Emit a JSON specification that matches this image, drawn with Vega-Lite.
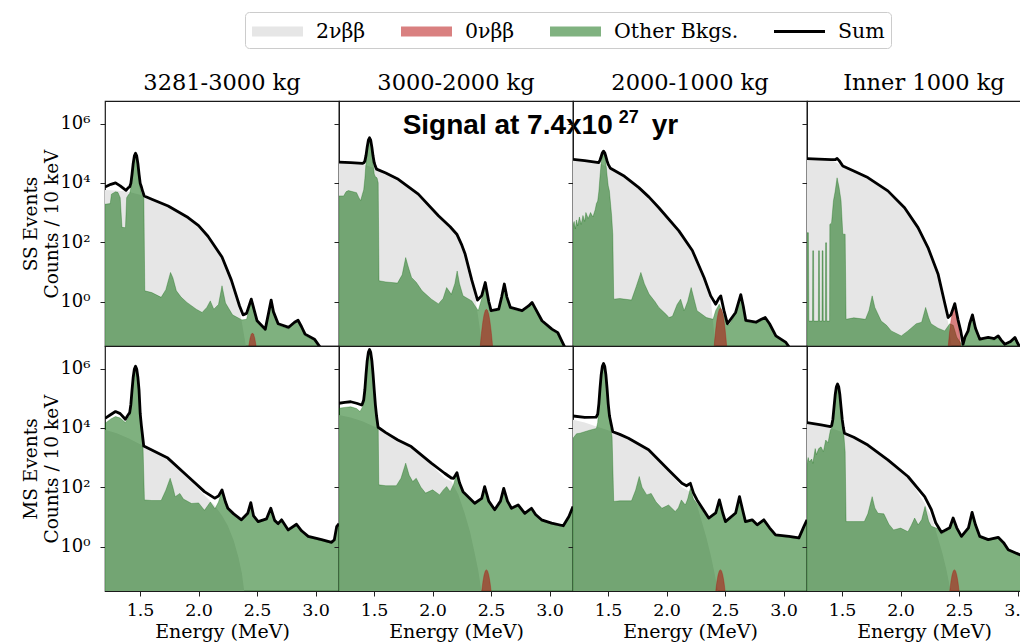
{
"$schema":"https://vega.github.io/schema/vega-lite/v6.json",
"padding":{"left":21,"top":11,"right":0,"bottom":0},
"columns":4,
"spacing":0,
"bounds":"flush",
"data":{"values":[
{"p":"S1","s":"2v","e":1.2,"v":5750},{"p":"S1","s":"2v","e":1.3,"v":5500},{"p":"S1","s":"2v","e":1.4,"v":5010},{"p":"S1","s":"2v","e":1.5,"v":3980},{"p":"S1","s":"2v","e":1.6,"v":2820},{"p":"S1","s":"2v","e":1.7,"v":2000},{"p":"S1","s":"2v","e":1.8,"v":1260},{"p":"S1","s":"2v","e":1.9,"v":724},{"p":"S1","s":"2v","e":2.0,"v":355},{"p":"S1","s":"2v","e":2.1,"v":132},{"p":"S1","s":"2v","e":2.2,"v":26.9},{"p":"S1","s":"2v","e":2.25,"v":10},{"p":"S1","s":"2v","e":2.3,"v":2.82},{"p":"S1","s":"2v","e":2.35,"v":0.562},{"p":"S1","s":"2v","e":2.4,"v":0.0398},{"p":"S1","s":"2v","e":2.43,"v":0.01},{"p":"S1","s":"2v","e":2.46,"v":0.001},
{"p":"S1","s":"bk","e":1.2,"v":1905},{"p":"S1","s":"bk","e":1.245,"v":2000},{"p":"S1","s":"bk","e":1.255,"v":4170},{"p":"S1","s":"bk","e":1.29,"v":5010},{"p":"S1","s":"bk","e":1.31,"v":4790},{"p":"S1","s":"bk","e":1.33,"v":3160},{"p":"S1","s":"bk","e":1.345,"v":316},{"p":"S1","s":"bk","e":1.375,"v":309},{"p":"S1","s":"bk","e":1.385,"v":3160},{"p":"S1","s":"bk","e":1.4,"v":3980},{"p":"S1","s":"bk","e":1.411,"v":4350},{"p":"S1","s":"bk","e":1.421,"v":6720},{"p":"S1","s":"bk","e":1.431,"v":16940},{"p":"S1","s":"bk","e":1.441,"v":43440},{"p":"S1","s":"bk","e":1.451,"v":80880},{"p":"S1","s":"bk","e":1.461,"v":100000},{"p":"S1","s":"bk","e":1.471,"v":80880},{"p":"S1","s":"bk","e":1.481,"v":43440},{"p":"S1","s":"bk","e":1.491,"v":16940},{"p":"S1","s":"bk","e":1.501,"v":6720},{"p":"S1","s":"bk","e":1.511,"v":4350},{"p":"S1","s":"bk","e":1.525,"v":3980},{"p":"S1","s":"bk","e":1.532,"v":3160},{"p":"S1","s":"bk","e":1.54,"v":2.29},{"p":"S1","s":"bk","e":1.6,"v":2.0},{"p":"S1","s":"bk","e":1.68,"v":1.38},{"p":"S1","s":"bk","e":1.72,"v":2.51},{"p":"S1","s":"bk","e":1.76,"v":9.55},{"p":"S1","s":"bk","e":1.78,"v":6.31},{"p":"S1","s":"bk","e":1.81,"v":2.29},{"p":"S1","s":"bk","e":1.85,"v":1.41},{"p":"S1","s":"bk","e":1.9,"v":0.933},{"p":"S1","s":"bk","e":1.98,"v":0.55},{"p":"S1","s":"bk","e":2.03,"v":0.427},{"p":"S1","s":"bk","e":2.07,"v":0.631},{"p":"S1","s":"bk","e":2.1,"v":1.05},{"p":"S1","s":"bk","e":2.13,"v":0.55},{"p":"S1","s":"bk","e":2.17,"v":0.794},{"p":"S1","s":"bk","e":2.2,"v":3.39},{"p":"S1","s":"bk","e":2.23,"v":0.891},{"p":"S1","s":"bk","e":2.29,"v":0.355},{"p":"S1","s":"bk","e":2.37,"v":0.24},{"p":"S1","s":"bk","e":2.41,"v":0.251},{"p":"S1","s":"bk","e":2.45,"v":1.05},{"p":"S1","s":"bk","e":2.5,"v":0.2},{"p":"S1","s":"bk","e":2.57,"v":0.107},{"p":"S1","s":"bk","e":2.6,"v":0.398},{"p":"S1","s":"bk","e":2.62,"v":1.0},{"p":"S1","s":"bk","e":2.64,"v":0.398},{"p":"S1","s":"bk","e":2.68,"v":0.158},{"p":"S1","s":"bk","e":2.77,"v":0.12},{"p":"S1","s":"bk","e":2.82,"v":0.178},{"p":"S1","s":"bk","e":2.85,"v":0.214},{"p":"S1","s":"bk","e":2.88,"v":0.126},{"p":"S1","s":"bk","e":2.91,"v":0.0708},{"p":"S1","s":"bk","e":2.99,"v":0.0479},{"p":"S1","s":"bk","e":3.05,"v":0.024},{"p":"S1","s":"bk","e":3.1,"v":0.0158},{"p":"S1","s":"bk","e":3.2,"v":0.0063},
{"p":"S1","s":"0v","e":2.39,"v":0.0001},{"p":"S1","s":"0v","e":2.4,"v":0.0021},{"p":"S1","s":"0v","e":2.41,"v":0.0066},{"p":"S1","s":"0v","e":2.42,"v":0.0166},{"p":"S1","s":"0v","e":2.43,"v":0.0344},{"p":"S1","s":"0v","e":2.44,"v":0.0576},{"p":"S1","s":"0v","e":2.45,"v":0.0785},{"p":"S1","s":"0v","e":2.46,"v":0.087},{"p":"S1","s":"0v","e":2.47,"v":0.0785},{"p":"S1","s":"0v","e":2.48,"v":0.0576},{"p":"S1","s":"0v","e":2.49,"v":0.0344},{"p":"S1","s":"0v","e":2.5,"v":0.0166},{"p":"S1","s":"0v","e":2.51,"v":0.0066},{"p":"S1","s":"0v","e":2.52,"v":0.0021},{"p":"S1","s":"0v","e":2.53,"v":0.0001},
{"p":"S1","s":"sum","e":1.2,"v":7240},{"p":"S1","s":"sum","e":1.25,"v":8910},{"p":"S1","s":"sum","e":1.29,"v":10000},{"p":"S1","s":"sum","e":1.33,"v":7940},{"p":"S1","s":"sum","e":1.38,"v":5620},{"p":"S1","s":"sum","e":1.4,"v":6900},{"p":"S1","s":"sum","e":1.411,"v":7360},{"p":"S1","s":"sum","e":1.421,"v":9650},{"p":"S1","s":"sum","e":1.431,"v":19560},{"p":"S1","s":"sum","e":1.441,"v":45220},{"p":"S1","s":"sum","e":1.451,"v":81490},{"p":"S1","s":"sum","e":1.461,"v":100000},{"p":"S1","s":"sum","e":1.471,"v":81490},{"p":"S1","s":"sum","e":1.481,"v":45220},{"p":"S1","s":"sum","e":1.491,"v":19560},{"p":"S1","s":"sum","e":1.501,"v":9650},{"p":"S1","s":"sum","e":1.511,"v":7360},{"p":"S1","s":"sum","e":1.523,"v":5000},{"p":"S1","s":"sum","e":1.535,"v":3630},{"p":"S1","s":"sum","e":1.6,"v":2820},{"p":"S1","s":"sum","e":1.74,"v":1660},{"p":"S1","s":"sum","e":1.91,"v":676},{"p":"S1","s":"sum","e":2.0,"v":363},{"p":"S1","s":"sum","e":2.08,"v":158},{"p":"S1","s":"sum","e":2.2,"v":31.6},{"p":"S1","s":"sum","e":2.28,"v":5.25},{"p":"S1","s":"sum","e":2.35,"v":0.708},{"p":"S1","s":"sum","e":2.38,"v":0.355},{"p":"S1","s":"sum","e":2.41,"v":0.398},{"p":"S1","s":"sum","e":2.45,"v":1.2},{"p":"S1","s":"sum","e":2.5,"v":0.224},{"p":"S1","s":"sum","e":2.57,"v":0.117},{"p":"S1","s":"sum","e":2.6,"v":0.447},{"p":"S1","s":"sum","e":2.62,"v":1.12},{"p":"S1","s":"sum","e":2.64,"v":0.447},{"p":"S1","s":"sum","e":2.68,"v":0.178},{"p":"S1","s":"sum","e":2.77,"v":0.135},{"p":"S1","s":"sum","e":2.82,"v":0.2},{"p":"S1","s":"sum","e":2.85,"v":0.234},{"p":"S1","s":"sum","e":2.88,"v":0.141},{"p":"S1","s":"sum","e":2.91,"v":0.0794},{"p":"S1","s":"sum","e":2.99,"v":0.0537},{"p":"S1","s":"sum","e":3.05,"v":0.0251},{"p":"S1","s":"sum","e":3.1,"v":0.0158},

{"p":"S2","s":"2v","e":1.2,"v":48980},{"p":"S2","s":"2v","e":1.3,"v":46770},{"p":"S2","s":"2v","e":1.4,"v":43650},{"p":"S2","s":"2v","e":1.5,"v":31620},{"p":"S2","s":"2v","e":1.6,"v":21380},{"p":"S2","s":"2v","e":1.7,"v":13490},{"p":"S2","s":"2v","e":1.8,"v":7940},{"p":"S2","s":"2v","e":1.88,"v":4370},{"p":"S2","s":"2v","e":1.95,"v":2240},{"p":"S2","s":"2v","e":2.05,"v":776},{"p":"S2","s":"2v","e":2.15,"v":316},{"p":"S2","s":"2v","e":2.21,"v":166},{"p":"S2","s":"2v","e":2.25,"v":70.8},{"p":"S2","s":"2v","e":2.28,"v":35.5},{"p":"S2","s":"2v","e":2.335,"v":4.47},{"p":"S2","s":"2v","e":2.37,"v":1},{"p":"S2","s":"2v","e":2.4,"v":0.158},{"p":"S2","s":"2v","e":2.43,"v":0.0158},{"p":"S2","s":"2v","e":2.46,"v":0.001},
{"p":"S2","s":"bk","e":1.2,"v":3630},{"p":"S2","s":"bk","e":1.24,"v":3630},{"p":"S2","s":"bk","e":1.26,"v":5010},{"p":"S2","s":"bk","e":1.28,"v":5500},{"p":"S2","s":"bk","e":1.32,"v":5010},{"p":"S2","s":"bk","e":1.35,"v":4680},{"p":"S2","s":"bk","e":1.37,"v":3160},{"p":"S2","s":"bk","e":1.385,"v":2510},{"p":"S2","s":"bk","e":1.4,"v":4170},{"p":"S2","s":"bk","e":1.411,"v":5770},{"p":"S2","s":"bk","e":1.421,"v":13800},{"p":"S2","s":"bk","e":1.431,"v":48580},{"p":"S2","s":"bk","e":1.441,"v":138700},{"p":"S2","s":"bk","e":1.451,"v":266000},{"p":"S2","s":"bk","e":1.461,"v":331000},{"p":"S2","s":"bk","e":1.471,"v":266000},{"p":"S2","s":"bk","e":1.481,"v":138700},{"p":"S2","s":"bk","e":1.491,"v":48580},{"p":"S2","s":"bk","e":1.501,"v":20000},{"p":"S2","s":"bk","e":1.511,"v":16000},{"p":"S2","s":"bk","e":1.525,"v":14790},{"p":"S2","s":"bk","e":1.535,"v":10000},{"p":"S2","s":"bk","e":1.542,"v":5.01},{"p":"S2","s":"bk","e":1.6,"v":4.57},{"p":"S2","s":"bk","e":1.7,"v":4.17},{"p":"S2","s":"bk","e":1.74,"v":7.94},{"p":"S2","s":"bk","e":1.77,"v":30.2},{"p":"S2","s":"bk","e":1.79,"v":15.8},{"p":"S2","s":"bk","e":1.82,"v":6.46},{"p":"S2","s":"bk","e":1.86,"v":4.47},{"p":"S2","s":"bk","e":1.91,"v":2.29},{"p":"S2","s":"bk","e":1.99,"v":1.2},{"p":"S2","s":"bk","e":2.05,"v":0.832},{"p":"S2","s":"bk","e":2.09,"v":1.26},{"p":"S2","s":"bk","e":2.12,"v":2.95},{"p":"S2","s":"bk","e":2.16,"v":1.74},{"p":"S2","s":"bk","e":2.19,"v":3.98},{"p":"S2","s":"bk","e":2.21,"v":10.7},{"p":"S2","s":"bk","e":2.23,"v":3.98},{"p":"S2","s":"bk","e":2.26,"v":1.55},{"p":"S2","s":"bk","e":2.335,"v":1.05},{"p":"S2","s":"bk","e":2.39,"v":0.49},{"p":"S2","s":"bk","e":2.42,"v":1.26},{"p":"S2","s":"bk","e":2.45,"v":3.16},{"p":"S2","s":"bk","e":2.48,"v":0.631},{"p":"S2","s":"bk","e":2.5,"v":0.447},{"p":"S2","s":"bk","e":2.565,"v":0.5},{"p":"S2","s":"bk","e":2.59,"v":1.26},{"p":"S2","s":"bk","e":2.613,"v":3.55},{"p":"S2","s":"bk","e":2.635,"v":1.26},{"p":"S2","s":"bk","e":2.665,"v":0.562},{"p":"S2","s":"bk","e":2.765,"v":0.447},{"p":"S2","s":"bk","e":2.82,"v":0.631},{"p":"S2","s":"bk","e":2.85,"v":0.832},{"p":"S2","s":"bk","e":2.88,"v":0.501},{"p":"S2","s":"bk","e":2.935,"v":0.2},{"p":"S2","s":"bk","e":3.02,"v":0.105},{"p":"S2","s":"bk","e":3.07,"v":0.0794},{"p":"S2","s":"bk","e":3.11,"v":0.0355},{"p":"S2","s":"bk","e":3.15,"v":0.0158},{"p":"S2","s":"bk","e":3.2,"v":0.0079},
{"p":"S2","s":"0v","e":2.39,"v":0.0001},{"p":"S2","s":"0v","e":2.4,"v":0.0132},{"p":"S2","s":"0v","e":2.41,"v":0.0418},{"p":"S2","s":"0v","e":2.42,"v":0.105},{"p":"S2","s":"0v","e":2.43,"v":0.217},{"p":"S2","s":"0v","e":2.44,"v":0.364},{"p":"S2","s":"0v","e":2.45,"v":0.496},{"p":"S2","s":"0v","e":2.46,"v":0.55},{"p":"S2","s":"0v","e":2.47,"v":0.496},{"p":"S2","s":"0v","e":2.48,"v":0.364},{"p":"S2","s":"0v","e":2.49,"v":0.217},{"p":"S2","s":"0v","e":2.5,"v":0.105},{"p":"S2","s":"0v","e":2.51,"v":0.0418},{"p":"S2","s":"0v","e":2.52,"v":0.0132},{"p":"S2","s":"0v","e":2.53,"v":0.0001},
{"p":"S2","s":"sum","e":1.2,"v":50100},{"p":"S2","s":"sum","e":1.3,"v":47900},{"p":"S2","s":"sum","e":1.4,"v":45700},{"p":"S2","s":"sum","e":1.411,"v":47100},{"p":"S2","s":"sum","e":1.421,"v":54100},{"p":"S2","s":"sum","e":1.431,"v":84500},{"p":"S2","s":"sum","e":1.441,"v":163100},{"p":"S2","s":"sum","e":1.451,"v":274300},{"p":"S2","s":"sum","e":1.461,"v":331000},{"p":"S2","s":"sum","e":1.471,"v":274300},{"p":"S2","s":"sum","e":1.481,"v":160000},{"p":"S2","s":"sum","e":1.491,"v":80000},{"p":"S2","s":"sum","e":1.501,"v":48000},{"p":"S2","s":"sum","e":1.511,"v":36000},{"p":"S2","s":"sum","e":1.521,"v":29000},{"p":"S2","s":"sum","e":1.6,"v":21400},{"p":"S2","s":"sum","e":1.707,"v":13200},{"p":"S2","s":"sum","e":1.878,"v":4170},{"p":"S2","s":"sum","e":2.05,"v":776},{"p":"S2","s":"sum","e":2.15,"v":331},{"p":"S2","s":"sum","e":2.207,"v":186},{"p":"S2","s":"sum","e":2.25,"v":79.4},{"p":"S2","s":"sum","e":2.278,"v":39.8},{"p":"S2","s":"sum","e":2.335,"v":5.25},{"p":"S2","s":"sum","e":2.384,"v":1.12},{"p":"S2","s":"sum","e":2.42,"v":1.58},{"p":"S2","s":"sum","e":2.45,"v":4.37},{"p":"S2","s":"sum","e":2.48,"v":1.0},{"p":"S2","s":"sum","e":2.5,"v":0.49},{"p":"S2","s":"sum","e":2.565,"v":0.55},{"p":"S2","s":"sum","e":2.59,"v":1.41},{"p":"S2","s":"sum","e":2.613,"v":3.89},{"p":"S2","s":"sum","e":2.635,"v":1.41},{"p":"S2","s":"sum","e":2.665,"v":0.631},{"p":"S2","s":"sum","e":2.765,"v":0.49},{"p":"S2","s":"sum","e":2.82,"v":0.708},{"p":"S2","s":"sum","e":2.85,"v":0.933},{"p":"S2","s":"sum","e":2.88,"v":0.562},{"p":"S2","s":"sum","e":2.935,"v":0.224},{"p":"S2","s":"sum","e":3.02,"v":0.117},{"p":"S2","s":"sum","e":3.07,"v":0.0891},{"p":"S2","s":"sum","e":3.11,"v":0.0417},{"p":"S2","s":"sum","e":3.15,"v":0.02},{"p":"S2","s":"sum","e":3.2,"v":0.01},

{"p":"S3","s":"2v","e":1.2,"v":60260},{"p":"S3","s":"2v","e":1.3,"v":56230},{"p":"S3","s":"2v","e":1.42,"v":46770},{"p":"S3","s":"2v","e":1.52,"v":30900},{"p":"S3","s":"2v","e":1.64,"v":16600},{"p":"S3","s":"2v","e":1.763,"v":6920},{"p":"S3","s":"2v","e":1.85,"v":3310},{"p":"S3","s":"2v","e":1.934,"v":1445},{"p":"S3","s":"2v","e":2.105,"v":240},{"p":"S3","s":"2v","e":2.22,"v":50.1},{"p":"S3","s":"2v","e":2.32,"v":6.03},{"p":"S3","s":"2v","e":2.377,"v":1.26},{"p":"S3","s":"2v","e":2.41,"v":0.063},{"p":"S3","s":"2v","e":2.44,"v":0.0063},{"p":"S3","s":"2v","e":2.47,"v":0.001},
{"p":"S3","s":"bk","e":1.2,"v":398},{"p":"S3","s":"bk","e":1.21,"v":501},{"p":"S3","s":"bk","e":1.22,"v":282},{"p":"S3","s":"bk","e":1.23,"v":562},{"p":"S3","s":"bk","e":1.24,"v":355},{"p":"S3","s":"bk","e":1.255,"v":708},{"p":"S3","s":"bk","e":1.27,"v":398},{"p":"S3","s":"bk","e":1.285,"v":794},{"p":"S3","s":"bk","e":1.3,"v":501},{"p":"S3","s":"bk","e":1.31,"v":1000},{"p":"S3","s":"bk","e":1.33,"v":631},{"p":"S3","s":"bk","e":1.35,"v":1000},{"p":"S3","s":"bk","e":1.37,"v":708},{"p":"S3","s":"bk","e":1.39,"v":1260},{"p":"S3","s":"bk","e":1.4,"v":2000},{"p":"S3","s":"bk","e":1.411,"v":2430},{"p":"S3","s":"bk","e":1.421,"v":5140},{"p":"S3","s":"bk","e":1.431,"v":16850},{"p":"S3","s":"bk","e":1.441,"v":47200},{"p":"S3","s":"bk","e":1.451,"v":90100},{"p":"S3","s":"bk","e":1.461,"v":112000},{"p":"S3","s":"bk","e":1.471,"v":90100},{"p":"S3","s":"bk","e":1.481,"v":47200},{"p":"S3","s":"bk","e":1.491,"v":18000},{"p":"S3","s":"bk","e":1.501,"v":8000},{"p":"S3","s":"bk","e":1.511,"v":5370},{"p":"S3","s":"bk","e":1.53,"v":794},{"p":"S3","s":"bk","e":1.54,"v":186},{"p":"S3","s":"bk","e":1.548,"v":1.2},{"p":"S3","s":"bk","e":1.6,"v":1.26},{"p":"S3","s":"bk","e":1.7,"v":1.12},{"p":"S3","s":"bk","e":1.74,"v":3.16},{"p":"S3","s":"bk","e":1.78,"v":9.55},{"p":"S3","s":"bk","e":1.81,"v":3.98},{"p":"S3","s":"bk","e":1.85,"v":1.78},{"p":"S3","s":"bk","e":1.9,"v":1.0},{"p":"S3","s":"bk","e":1.934,"v":0.631},{"p":"S3","s":"bk","e":2.0,"v":0.355},{"p":"S3","s":"bk","e":2.02,"v":0.288},{"p":"S3","s":"bk","e":2.05,"v":0.316},{"p":"S3","s":"bk","e":2.09,"v":0.794},{"p":"S3","s":"bk","e":2.12,"v":1.2},{"p":"S3","s":"bk","e":2.15,"v":0.49},{"p":"S3","s":"bk","e":2.18,"v":1.0},{"p":"S3","s":"bk","e":2.21,"v":2.95},{"p":"S3","s":"bk","e":2.24,"v":1.0},{"p":"S3","s":"bk","e":2.26,"v":0.49},{"p":"S3","s":"bk","e":2.34,"v":0.288},{"p":"S3","s":"bk","e":2.397,"v":0.251},{"p":"S3","s":"bk","e":2.42,"v":0.501},{"p":"S3","s":"bk","e":2.45,"v":0.813},{"p":"S3","s":"bk","e":2.48,"v":0.398},{"p":"S3","s":"bk","e":2.52,"v":0.158},{"p":"S3","s":"bk","e":2.537,"v":0.166},{"p":"S3","s":"bk","e":2.57,"v":0.282},{"p":"S3","s":"bk","e":2.6,"v":0.631},{"p":"S3","s":"bk","e":2.634,"v":1.51},{"p":"S3","s":"bk","e":2.655,"v":0.631},{"p":"S3","s":"bk","e":2.677,"v":0.209},{"p":"S3","s":"bk","e":2.763,"v":0.182},{"p":"S3","s":"bk","e":2.81,"v":0.224},{"p":"S3","s":"bk","e":2.843,"v":0.263},{"p":"S3","s":"bk","e":2.88,"v":0.158},{"p":"S3","s":"bk","e":2.934,"v":0.0631},{"p":"S3","s":"bk","e":3.02,"v":0.038},{"p":"S3","s":"bk","e":3.05,"v":0.0251},{"p":"S3","s":"bk","e":3.1,"v":0.0126},{"p":"S3","s":"bk","e":3.2,"v":0.0063},
{"p":"S3","s":"0v","e":2.39,"v":0.0001},{"p":"S3","s":"0v","e":2.4,"v":0.0144},{"p":"S3","s":"0v","e":2.41,"v":0.0456},{"p":"S3","s":"0v","e":2.42,"v":0.115},{"p":"S3","s":"0v","e":2.43,"v":0.237},{"p":"S3","s":"0v","e":2.44,"v":0.397},{"p":"S3","s":"0v","e":2.45,"v":0.541},{"p":"S3","s":"0v","e":2.46,"v":0.6},{"p":"S3","s":"0v","e":2.47,"v":0.541},{"p":"S3","s":"0v","e":2.48,"v":0.397},{"p":"S3","s":"0v","e":2.49,"v":0.237},{"p":"S3","s":"0v","e":2.5,"v":0.115},{"p":"S3","s":"0v","e":2.51,"v":0.0456},{"p":"S3","s":"0v","e":2.52,"v":0.0144},{"p":"S3","s":"0v","e":2.53,"v":0.0001},
{"p":"S3","s":"sum","e":1.2,"v":61700},{"p":"S3","s":"sum","e":1.3,"v":56200},{"p":"S3","s":"sum","e":1.42,"v":47900},{"p":"S3","s":"sum","e":1.431,"v":59000},{"p":"S3","s":"sum","e":1.441,"v":77500},{"p":"S3","s":"sum","e":1.451,"v":103700},{"p":"S3","s":"sum","e":1.461,"v":117000},{"p":"S3","s":"sum","e":1.471,"v":103700},{"p":"S3","s":"sum","e":1.481,"v":77500},{"p":"S3","s":"sum","e":1.491,"v":55000},{"p":"S3","s":"sum","e":1.501,"v":42000},{"p":"S3","s":"sum","e":1.52,"v":30900},{"p":"S3","s":"sum","e":1.64,"v":16600},{"p":"S3","s":"sum","e":1.763,"v":6920},{"p":"S3","s":"sum","e":1.85,"v":3310},{"p":"S3","s":"sum","e":1.934,"v":1450},{"p":"S3","s":"sum","e":2.105,"v":240},{"p":"S3","s":"sum","e":2.22,"v":52.5},{"p":"S3","s":"sum","e":2.32,"v":6.46},{"p":"S3","s":"sum","e":2.377,"v":1.55},{"p":"S3","s":"sum","e":2.42,"v":0.813},{"p":"S3","s":"sum","e":2.445,"v":1.26},{"p":"S3","s":"sum","e":2.463,"v":1.55},{"p":"S3","s":"sum","e":2.49,"v":0.501},{"p":"S3","s":"sum","e":2.52,"v":0.178},{"p":"S3","s":"sum","e":2.59,"v":0.427},{"p":"S3","s":"sum","e":2.634,"v":1.7},{"p":"S3","s":"sum","e":2.655,"v":0.708},{"p":"S3","s":"sum","e":2.677,"v":0.229},{"p":"S3","s":"sum","e":2.763,"v":0.2},{"p":"S3","s":"sum","e":2.81,"v":0.251},{"p":"S3","s":"sum","e":2.843,"v":0.288},{"p":"S3","s":"sum","e":2.88,"v":0.178},{"p":"S3","s":"sum","e":2.934,"v":0.0692},{"p":"S3","s":"sum","e":3.02,"v":0.0417},{"p":"S3","s":"sum","e":3.05,"v":0.0282},{"p":"S3","s":"sum","e":3.1,"v":0.0141},

{"p":"S4","s":"2v","e":1.2,"v":64570},{"p":"S4","s":"2v","e":1.3,"v":63100},{"p":"S4","s":"2v","e":1.406,"v":58880},{"p":"S4","s":"2v","e":1.506,"v":37150},{"p":"S4","s":"2v","e":1.6,"v":25120},{"p":"S4","s":"2v","e":1.72,"v":15140},{"p":"S4","s":"2v","e":1.891,"v":5370},{"p":"S4","s":"2v","e":2.034,"v":1445},{"p":"S4","s":"2v","e":2.149,"v":309},{"p":"S4","s":"2v","e":2.234,"v":66.1},{"p":"S4","s":"2v","e":2.32,"v":8.32},{"p":"S4","s":"2v","e":2.377,"v":0.794},{"p":"S4","s":"2v","e":2.41,"v":0.158},{"p":"S4","s":"2v","e":2.44,"v":0.0251},{"p":"S4","s":"2v","e":2.47,"v":0.0025},
{"p":"S4","s":"bk","e":1.2,"v":209},{"p":"S4","s":"bk","e":1.212,"v":209},{"p":"S4","s":"bk","e":1.216,"v":0.219},{"p":"S4","s":"bk","e":1.247,"v":0.219},{"p":"S4","s":"bk","e":1.249,"v":51.3},{"p":"S4","s":"bk","e":1.256,"v":51.3},{"p":"S4","s":"bk","e":1.258,"v":0.219},{"p":"S4","s":"bk","e":1.297,"v":0.219},{"p":"S4","s":"bk","e":1.299,"v":51.3},{"p":"S4","s":"bk","e":1.306,"v":51.3},{"p":"S4","s":"bk","e":1.308,"v":0.219},{"p":"S4","s":"bk","e":1.328,"v":0.219},{"p":"S4","s":"bk","e":1.33,"v":51.3},{"p":"S4","s":"bk","e":1.337,"v":51.3},{"p":"S4","s":"bk","e":1.339,"v":0.219},{"p":"S4","s":"bk","e":1.357,"v":0.219},{"p":"S4","s":"bk","e":1.359,"v":95.5},{"p":"S4","s":"bk","e":1.367,"v":95.5},{"p":"S4","s":"bk","e":1.369,"v":0.219},{"p":"S4","s":"bk","e":1.393,"v":0.219},{"p":"S4","s":"bk","e":1.395,"v":398},{"p":"S4","s":"bk","e":1.41,"v":447},{"p":"S4","s":"bk","e":1.426,"v":2510},{"p":"S4","s":"bk","e":1.44,"v":5010},{"p":"S4","s":"bk","e":1.457,"v":14800},{"p":"S4","s":"bk","e":1.474,"v":7080},{"p":"S4","s":"bk","e":1.491,"v":2510},{"p":"S4","s":"bk","e":1.506,"v":186},{"p":"S4","s":"bk","e":1.526,"v":186},{"p":"S4","s":"bk","e":1.534,"v":0.251},{"p":"S4","s":"bk","e":1.6,"v":0.282},{"p":"S4","s":"bk","e":1.7,"v":0.251},{"p":"S4","s":"bk","e":1.73,"v":0.501},{"p":"S4","s":"bk","e":1.757,"v":1.55},{"p":"S4","s":"bk","e":1.78,"v":0.631},{"p":"S4","s":"bk","e":1.834,"v":0.219},{"p":"S4","s":"bk","e":1.88,"v":0.158},{"p":"S4","s":"bk","e":1.92,"v":0.102},{"p":"S4","s":"bk","e":2.006,"v":0.0692},{"p":"S4","s":"bk","e":2.06,"v":0.1},{"p":"S4","s":"bk","e":2.134,"v":0.178},{"p":"S4","s":"bk","e":2.18,"v":0.2},{"p":"S4","s":"bk","e":2.214,"v":0.631},{"p":"S4","s":"bk","e":2.24,"v":0.282},{"p":"S4","s":"bk","e":2.26,"v":0.178},{"p":"S4","s":"bk","e":2.32,"v":0.126},{"p":"S4","s":"bk","e":2.377,"v":0.102},{"p":"S4","s":"bk","e":2.42,"v":0.178},{"p":"S4","s":"bk","e":2.45,"v":0.158},{"p":"S4","s":"bk","e":2.48,"v":0.0631},{"p":"S4","s":"bk","e":2.52,"v":0.0363},{"p":"S4","s":"bk","e":2.55,"v":0.0631},{"p":"S4","s":"bk","e":2.59,"v":0.158},{"p":"S4","s":"bk","e":2.614,"v":0.355},{"p":"S4","s":"bk","e":2.64,"v":0.126},{"p":"S4","s":"bk","e":2.677,"v":0.0501},{"p":"S4","s":"bk","e":2.749,"v":0.0537},{"p":"S4","s":"bk","e":2.8,"v":0.0501},{"p":"S4","s":"bk","e":2.834,"v":0.0617},{"p":"S4","s":"bk","e":2.86,"v":0.0447},{"p":"S4","s":"bk","e":2.891,"v":0.0316},{"p":"S4","s":"bk","e":2.94,"v":0.0398},{"p":"S4","s":"bk","e":2.977,"v":0.0537},{"p":"S4","s":"bk","e":3.0,"v":0.0355},{"p":"S4","s":"bk","e":3.034,"v":0.02},{"p":"S4","s":"bk","e":3.1,"v":0.01},{"p":"S4","s":"bk","e":3.2,"v":0.005},
{"p":"S4","s":"0v","e":2.39,"v":0.0001},{"p":"S4","s":"0v","e":2.4,"v":0.0132},{"p":"S4","s":"0v","e":2.41,"v":0.0418},{"p":"S4","s":"0v","e":2.42,"v":0.105},{"p":"S4","s":"0v","e":2.43,"v":0.217},{"p":"S4","s":"0v","e":2.44,"v":0.364},{"p":"S4","s":"0v","e":2.45,"v":0.496},{"p":"S4","s":"0v","e":2.46,"v":0.55},{"p":"S4","s":"0v","e":2.47,"v":0.496},{"p":"S4","s":"0v","e":2.48,"v":0.364},{"p":"S4","s":"0v","e":2.49,"v":0.217},{"p":"S4","s":"0v","e":2.5,"v":0.105},{"p":"S4","s":"0v","e":2.51,"v":0.0418},{"p":"S4","s":"0v","e":2.52,"v":0.0132},{"p":"S4","s":"0v","e":2.53,"v":0.0001},
{"p":"S4","s":"sum","e":1.2,"v":66100},{"p":"S4","s":"sum","e":1.3,"v":63100},{"p":"S4","s":"sum","e":1.406,"v":60300},{"p":"S4","s":"sum","e":1.44,"v":60300},{"p":"S4","s":"sum","e":1.457,"v":66100},{"p":"S4","s":"sum","e":1.475,"v":56200},{"p":"S4","s":"sum","e":1.506,"v":37200},{"p":"S4","s":"sum","e":1.6,"v":25100},{"p":"S4","s":"sum","e":1.72,"v":15100},{"p":"S4","s":"sum","e":1.891,"v":5370},{"p":"S4","s":"sum","e":2.034,"v":1450},{"p":"S4","s":"sum","e":2.149,"v":309},{"p":"S4","s":"sum","e":2.234,"v":66.1},{"p":"S4","s":"sum","e":2.32,"v":8.51},{"p":"S4","s":"sum","e":2.377,"v":0.891},{"p":"S4","s":"sum","e":2.406,"v":0.288},{"p":"S4","s":"sum","e":2.43,"v":0.355},{"p":"S4","s":"sum","e":2.463,"v":0.851},{"p":"S4","s":"sum","e":2.49,"v":0.251},{"p":"S4","s":"sum","e":2.514,"v":0.102},{"p":"S4","s":"sum","e":2.534,"v":0.0363},{"p":"S4","s":"sum","e":2.55,"v":0.0631},{"p":"S4","s":"sum","e":2.577,"v":0.102},{"p":"S4","s":"sum","e":2.59,"v":0.178},{"p":"S4","s":"sum","e":2.614,"v":0.355},{"p":"S4","s":"sum","e":2.64,"v":0.126},{"p":"S4","s":"sum","e":2.677,"v":0.0537},{"p":"S4","s":"sum","e":2.749,"v":0.0617},{"p":"S4","s":"sum","e":2.8,"v":0.0562},{"p":"S4","s":"sum","e":2.834,"v":0.0692},{"p":"S4","s":"sum","e":2.86,"v":0.0501},{"p":"S4","s":"sum","e":2.891,"v":0.0363},{"p":"S4","s":"sum","e":2.94,"v":0.0447},{"p":"S4","s":"sum","e":2.977,"v":0.0617},{"p":"S4","s":"sum","e":3.0,"v":0.0398},{"p":"S4","s":"sum","e":3.034,"v":0.0224},{"p":"S4","s":"sum","e":3.1,"v":0.0112},

{"p":"M1","s":"2v","e":1.2,"v":8710},{"p":"M1","s":"2v","e":1.3,"v":6610},{"p":"M1","s":"2v","e":1.4,"v":4470},{"p":"M1","s":"2v","e":1.5,"v":2820},{"p":"M1","s":"2v","e":1.6,"v":1740},{"p":"M1","s":"2v","e":1.737,"v":832},{"p":"M1","s":"2v","e":1.909,"v":195},{"p":"M1","s":"2v","e":2.05,"v":53.7},{"p":"M1","s":"2v","e":2.137,"v":24},{"p":"M1","s":"2v","e":2.2,"v":11.2},{"p":"M1","s":"2v","e":2.25,"v":5.01},{"p":"M1","s":"2v","e":2.3,"v":1.58},{"p":"M1","s":"2v","e":2.34,"v":0.447},{"p":"M1","s":"2v","e":2.37,"v":0.126},{"p":"M1","s":"2v","e":2.39,"v":0.0316},{"p":"M1","s":"2v","e":2.41,"v":0.0063},{"p":"M1","s":"2v","e":2.43,"v":0.001},
{"p":"M1","s":"bk","e":1.2,"v":14100},{"p":"M1","s":"bk","e":1.25,"v":20000},{"p":"M1","s":"bk","e":1.29,"v":24000},{"p":"M1","s":"bk","e":1.33,"v":21400},{"p":"M1","s":"bk","e":1.374,"v":15100},{"p":"M1","s":"bk","e":1.4,"v":22400},{"p":"M1","s":"bk","e":1.411,"v":24400},{"p":"M1","s":"bk","e":1.421,"v":52200},{"p":"M1","s":"bk","e":1.431,"v":172600},{"p":"M1","s":"bk","e":1.441,"v":484400},{"p":"M1","s":"bk","e":1.451,"v":925100},{"p":"M1","s":"bk","e":1.461,"v":1150000},{"p":"M1","s":"bk","e":1.471,"v":925100},{"p":"M1","s":"bk","e":1.481,"v":484400},{"p":"M1","s":"bk","e":1.491,"v":172600},{"p":"M1","s":"bk","e":1.501,"v":20000},{"p":"M1","s":"bk","e":1.511,"v":8000},{"p":"M1","s":"bk","e":1.525,"v":2240},{"p":"M1","s":"bk","e":1.537,"v":37.2},{"p":"M1","s":"bk","e":1.6,"v":35.5},{"p":"M1","s":"bk","e":1.68,"v":35.5},{"p":"M1","s":"bk","e":1.72,"v":79.4},{"p":"M1","s":"bk","e":1.757,"v":200},{"p":"M1","s":"bk","e":1.78,"v":100},{"p":"M1","s":"bk","e":1.8,"v":47.9},{"p":"M1","s":"bk","e":1.84,"v":61.7},{"p":"M1","s":"bk","e":1.87,"v":39.8},{"p":"M1","s":"bk","e":1.94,"v":28.2},{"p":"M1","s":"bk","e":2.0,"v":29.5},{"p":"M1","s":"bk","e":2.05,"v":16.6},{"p":"M1","s":"bk","e":2.1,"v":31.6},{"p":"M1","s":"bk","e":2.14,"v":18.6},{"p":"M1","s":"bk","e":2.17,"v":31.6},{"p":"M1","s":"bk","e":2.2,"v":75.9},{"p":"M1","s":"bk","e":2.23,"v":25.1},{"p":"M1","s":"bk","e":2.25,"v":16.6},{"p":"M1","s":"bk","e":2.3,"v":11.2},{"p":"M1","s":"bk","e":2.366,"v":7.41},{"p":"M1","s":"bk","e":2.42,"v":12.6},{"p":"M1","s":"bk","e":2.446,"v":28.2},{"p":"M1","s":"bk","e":2.47,"v":10},{"p":"M1","s":"bk","e":2.509,"v":6.46},{"p":"M1","s":"bk","e":2.58,"v":7.94},{"p":"M1","s":"bk","e":2.617,"v":18.2},{"p":"M1","s":"bk","e":2.65,"v":7.08},{"p":"M1","s":"bk","e":2.68,"v":5.5},{"p":"M1","s":"bk","e":2.709,"v":7.41},{"p":"M1","s":"bk","e":2.766,"v":3.39},{"p":"M1","s":"bk","e":2.837,"v":5.25},{"p":"M1","s":"bk","e":2.88,"v":3.16},{"p":"M1","s":"bk","e":2.937,"v":2.04},{"p":"M1","s":"bk","e":3.051,"v":1.58},{"p":"M1","s":"bk","e":3.137,"v":1.29},{"p":"M1","s":"bk","e":3.16,"v":1.58},{"p":"M1","s":"bk","e":3.18,"v":4.37},{"p":"M1","s":"bk","e":3.2,"v":5.5},
{"p":"M1","s":"0v","e":2.39,"v":0.0001},{"p":"M1","s":"0v","e":2.4,"v":0.0005},{"p":"M1","s":"0v","e":2.41,"v":0.0015},{"p":"M1","s":"0v","e":2.42,"v":0.0038},{"p":"M1","s":"0v","e":2.43,"v":0.0079},{"p":"M1","s":"0v","e":2.44,"v":0.0132},{"p":"M1","s":"0v","e":2.45,"v":0.018},{"p":"M1","s":"0v","e":2.46,"v":0.02},{"p":"M1","s":"0v","e":2.47,"v":0.018},{"p":"M1","s":"0v","e":2.48,"v":0.0132},{"p":"M1","s":"0v","e":2.49,"v":0.0079},{"p":"M1","s":"0v","e":2.5,"v":0.0038},{"p":"M1","s":"0v","e":2.51,"v":0.0015},{"p":"M1","s":"0v","e":2.52,"v":0.0005},{"p":"M1","s":"0v","e":2.53,"v":0.0001},
{"p":"M1","s":"sum","e":1.2,"v":20900},{"p":"M1","s":"sum","e":1.25,"v":28200},{"p":"M1","s":"sum","e":1.29,"v":35500},{"p":"M1","s":"sum","e":1.33,"v":30200},{"p":"M1","s":"sum","e":1.374,"v":19500},{"p":"M1","s":"sum","e":1.4,"v":28200},{"p":"M1","s":"sum","e":1.411,"v":32600},{"p":"M1","s":"sum","e":1.421,"v":61400},{"p":"M1","s":"sum","e":1.431,"v":186200},{"p":"M1","s":"sum","e":1.441,"v":509700},{"p":"M1","s":"sum","e":1.451,"v":966800},{"p":"M1","s":"sum","e":1.461,"v":1200000},{"p":"M1","s":"sum","e":1.471,"v":966800},{"p":"M1","s":"sum","e":1.481,"v":509700},{"p":"M1","s":"sum","e":1.491,"v":186200},{"p":"M1","s":"sum","e":1.501,"v":30000},{"p":"M1","s":"sum","e":1.511,"v":12000},{"p":"M1","s":"sum","e":1.531,"v":2450},{"p":"M1","s":"sum","e":1.6,"v":1780},{"p":"M1","s":"sum","e":1.737,"v":955},{"p":"M1","s":"sum","e":1.909,"v":229},{"p":"M1","s":"sum","e":2.05,"v":70.8},{"p":"M1","s":"sum","e":2.137,"v":42.7},{"p":"M1","s":"sum","e":2.17,"v":50.1},{"p":"M1","s":"sum","e":2.2,"v":81.3},{"p":"M1","s":"sum","e":2.23,"v":31.6},{"p":"M1","s":"sum","e":2.25,"v":19.5},{"p":"M1","s":"sum","e":2.3,"v":12.6},{"p":"M1","s":"sum","e":2.366,"v":7.94},{"p":"M1","s":"sum","e":2.42,"v":13.2},{"p":"M1","s":"sum","e":2.446,"v":30.2},{"p":"M1","s":"sum","e":2.47,"v":10.7},{"p":"M1","s":"sum","e":2.509,"v":6.92},{"p":"M1","s":"sum","e":2.58,"v":8.51},{"p":"M1","s":"sum","e":2.617,"v":19.5},{"p":"M1","s":"sum","e":2.65,"v":7.59},{"p":"M1","s":"sum","e":2.68,"v":5.89},{"p":"M1","s":"sum","e":2.709,"v":7.94},{"p":"M1","s":"sum","e":2.766,"v":3.63},{"p":"M1","s":"sum","e":2.837,"v":5.62},{"p":"M1","s":"sum","e":2.88,"v":3.39},{"p":"M1","s":"sum","e":2.937,"v":2.19},{"p":"M1","s":"sum","e":3.051,"v":1.7},{"p":"M1","s":"sum","e":3.137,"v":1.38},{"p":"M1","s":"sum","e":3.16,"v":1.7},{"p":"M1","s":"sum","e":3.18,"v":4.68},{"p":"M1","s":"sum","e":3.2,"v":5.89},

{"p":"M2","s":"2v","e":1.2,"v":26920},{"p":"M2","s":"2v","e":1.3,"v":22390},{"p":"M2","s":"2v","e":1.4,"v":16600},{"p":"M2","s":"2v","e":1.5,"v":11220},{"p":"M2","s":"2v","e":1.6,"v":6920},{"p":"M2","s":"2v","e":1.703,"v":3720},{"p":"M2","s":"2v","e":1.817,"v":2240},{"p":"M2","s":"2v","e":1.989,"v":565},{"p":"M2","s":"2v","e":2.103,"v":200},{"p":"M2","s":"2v","e":2.16,"v":158},{"p":"M2","s":"2v","e":2.22,"v":56.2},{"p":"M2","s":"2v","e":2.274,"v":13.2},{"p":"M2","s":"2v","e":2.32,"v":3.16},{"p":"M2","s":"2v","e":2.36,"v":0.589},{"p":"M2","s":"2v","e":2.39,"v":0.158},{"p":"M2","s":"2v","e":2.417,"v":0.0316},{"p":"M2","s":"2v","e":2.44,"v":0.005},
{"p":"M2","s":"bk","e":1.2,"v":45700},{"p":"M2","s":"bk","e":1.25,"v":49000},{"p":"M2","s":"bk","e":1.3,"v":51300},{"p":"M2","s":"bk","e":1.35,"v":44700},{"p":"M2","s":"bk","e":1.38,"v":35500},{"p":"M2","s":"bk","e":1.4,"v":50000},{"p":"M2","s":"bk","e":1.411,"v":66100},{"p":"M2","s":"bk","e":1.421,"v":167400},{"p":"M2","s":"bk","e":1.431,"v":606200},{"p":"M2","s":"bk","e":1.441,"v":1743000},{"p":"M2","s":"bk","e":1.451,"v":3350000},{"p":"M2","s":"bk","e":1.461,"v":4170000},{"p":"M2","s":"bk","e":1.471,"v":3350000},{"p":"M2","s":"bk","e":1.481,"v":1743000},{"p":"M2","s":"bk","e":1.491,"v":606200},{"p":"M2","s":"bk","e":1.501,"v":167400},{"p":"M2","s":"bk","e":1.511,"v":50000},{"p":"M2","s":"bk","e":1.525,"v":25100},{"p":"M2","s":"bk","e":1.535,"v":12600},{"p":"M2","s":"bk","e":1.54,"v":120},{"p":"M2","s":"bk","e":1.6,"v":112},{"p":"M2","s":"bk","e":1.69,"v":112},{"p":"M2","s":"bk","e":1.73,"v":200},{"p":"M2","s":"bk","e":1.77,"v":646},{"p":"M2","s":"bk","e":1.8,"v":251},{"p":"M2","s":"bk","e":1.83,"v":155},{"p":"M2","s":"bk","e":1.86,"v":200},{"p":"M2","s":"bk","e":1.9,"v":100},{"p":"M2","s":"bk","e":1.94,"v":63.1},{"p":"M2","s":"bk","e":2.0,"v":81.3},{"p":"M2","s":"bk","e":2.06,"v":55},{"p":"M2","s":"bk","e":2.09,"v":79.4},{"p":"M2","s":"bk","e":2.12,"v":105},{"p":"M2","s":"bk","e":2.15,"v":70.8},{"p":"M2","s":"bk","e":2.18,"v":126},{"p":"M2","s":"bk","e":2.208,"v":295},{"p":"M2","s":"bk","e":2.23,"v":126},{"p":"M2","s":"bk","e":2.26,"v":66.1},{"p":"M2","s":"bk","e":2.36,"v":26.9},{"p":"M2","s":"bk","e":2.42,"v":39.8},{"p":"M2","s":"bk","e":2.445,"v":97.7},{"p":"M2","s":"bk","e":2.48,"v":31.6},{"p":"M2","s":"bk","e":2.531,"v":16.2},{"p":"M2","s":"bk","e":2.58,"v":31.6},{"p":"M2","s":"bk","e":2.608,"v":85.1},{"p":"M2","s":"bk","e":2.64,"v":31.6},{"p":"M2","s":"bk","e":2.674,"v":18.2},{"p":"M2","s":"bk","e":2.731,"v":23.4},{"p":"M2","s":"bk","e":2.788,"v":12.3},{"p":"M2","s":"bk","e":2.845,"v":18.2},{"p":"M2","s":"bk","e":2.88,"v":11.2},{"p":"M2","s":"bk","e":2.931,"v":7.41},{"p":"M2","s":"bk","e":3.017,"v":5.75},{"p":"M2","s":"bk","e":3.117,"v":4.68},{"p":"M2","s":"bk","e":3.165,"v":9.55},{"p":"M2","s":"bk","e":3.2,"v":20.9},
{"p":"M2","s":"0v","e":2.39,"v":0.0001},{"p":"M2","s":"0v","e":2.4,"v":0.004},{"p":"M2","s":"0v","e":2.41,"v":0.0126},{"p":"M2","s":"0v","e":2.42,"v":0.0317},{"p":"M2","s":"0v","e":2.43,"v":0.0656},{"p":"M2","s":"0v","e":2.44,"v":0.11},{"p":"M2","s":"0v","e":2.45,"v":0.15},{"p":"M2","s":"0v","e":2.46,"v":0.166},{"p":"M2","s":"0v","e":2.47,"v":0.15},{"p":"M2","s":"0v","e":2.48,"v":0.11},{"p":"M2","s":"0v","e":2.49,"v":0.0656},{"p":"M2","s":"0v","e":2.5,"v":0.0317},{"p":"M2","s":"0v","e":2.51,"v":0.0126},{"p":"M2","s":"0v","e":2.52,"v":0.004},{"p":"M2","s":"0v","e":2.53,"v":0.0001},
{"p":"M2","s":"sum","e":1.2,"v":67600},{"p":"M2","s":"sum","e":1.25,"v":72400},{"p":"M2","s":"sum","e":1.3,"v":75900},{"p":"M2","s":"sum","e":1.35,"v":67600},{"p":"M2","s":"sum","e":1.394,"v":58900},{"p":"M2","s":"sum","e":1.4,"v":65000},{"p":"M2","s":"sum","e":1.411,"v":86800},{"p":"M2","s":"sum","e":1.421,"v":192500},{"p":"M2","s":"sum","e":1.431,"v":650500},{"p":"M2","s":"sum","e":1.441,"v":1837000},{"p":"M2","s":"sum","e":1.451,"v":3514000},{"p":"M2","s":"sum","e":1.461,"v":4370000},{"p":"M2","s":"sum","e":1.471,"v":3514000},{"p":"M2","s":"sum","e":1.481,"v":1837000},{"p":"M2","s":"sum","e":1.491,"v":650500},{"p":"M2","s":"sum","e":1.501,"v":192500},{"p":"M2","s":"sum","e":1.511,"v":60000},{"p":"M2","s":"sum","e":1.521,"v":25000},{"p":"M2","s":"sum","e":1.534,"v":10500},{"p":"M2","s":"sum","e":1.6,"v":6920},{"p":"M2","s":"sum","e":1.703,"v":3890},{"p":"M2","s":"sum","e":1.817,"v":2340},{"p":"M2","s":"sum","e":1.989,"v":646},{"p":"M2","s":"sum","e":2.103,"v":295},{"p":"M2","s":"sum","e":2.16,"v":204},{"p":"M2","s":"sum","e":2.18,"v":200},{"p":"M2","s":"sum","e":2.208,"v":309},{"p":"M2","s":"sum","e":2.23,"v":141},{"p":"M2","s":"sum","e":2.26,"v":70.8},{"p":"M2","s":"sum","e":2.36,"v":28.8},{"p":"M2","s":"sum","e":2.42,"v":41.7},{"p":"M2","s":"sum","e":2.445,"v":105},{"p":"M2","s":"sum","e":2.48,"v":33.9},{"p":"M2","s":"sum","e":2.531,"v":17.4},{"p":"M2","s":"sum","e":2.58,"v":33.9},{"p":"M2","s":"sum","e":2.608,"v":91.2},{"p":"M2","s":"sum","e":2.64,"v":33.9},{"p":"M2","s":"sum","e":2.674,"v":19.5},{"p":"M2","s":"sum","e":2.731,"v":25.1},{"p":"M2","s":"sum","e":2.788,"v":13.2},{"p":"M2","s":"sum","e":2.845,"v":19.5},{"p":"M2","s":"sum","e":2.88,"v":12},{"p":"M2","s":"sum","e":2.931,"v":7.94},{"p":"M2","s":"sum","e":3.017,"v":6.17},{"p":"M2","s":"sum","e":3.117,"v":5.01},{"p":"M2","s":"sum","e":3.165,"v":10.2},{"p":"M2","s":"sum","e":3.2,"v":22.4},

{"p":"M3","s":"2v","e":1.2,"v":18620},{"p":"M3","s":"2v","e":1.3,"v":15140},{"p":"M3","s":"2v","e":1.4,"v":11220},{"p":"M3","s":"2v","e":1.5,"v":8320},{"p":"M3","s":"2v","e":1.6,"v":6030},{"p":"M3","s":"2v","e":1.674,"v":4370},{"p":"M3","s":"2v","e":1.846,"v":1780},{"p":"M3","s":"2v","e":2.017,"v":355},{"p":"M3","s":"2v","e":2.131,"v":100},{"p":"M3","s":"2v","e":2.2,"v":70.8},{"p":"M3","s":"2v","e":2.26,"v":25.1},{"p":"M3","s":"2v","e":2.296,"v":7.94},{"p":"M3","s":"2v","e":2.34,"v":2.0},{"p":"M3","s":"2v","e":2.38,"v":0.457},{"p":"M3","s":"2v","e":2.41,"v":0.126},{"p":"M3","s":"2v","e":2.44,"v":0.0316},{"p":"M3","s":"2v","e":2.47,"v":0.004},
{"p":"M3","s":"bk","e":1.2,"v":4470},{"p":"M3","s":"bk","e":1.23,"v":6310},{"p":"M3","s":"bk","e":1.26,"v":6610},{"p":"M3","s":"bk","e":1.3,"v":7410},{"p":"M3","s":"bk","e":1.35,"v":8510},{"p":"M3","s":"bk","e":1.4,"v":9550},{"p":"M3","s":"bk","e":1.411,"v":15000},{"p":"M3","s":"bk","e":1.421,"v":49450},{"p":"M3","s":"bk","e":1.431,"v":198600},{"p":"M3","s":"bk","e":1.441,"v":585000},{"p":"M3","s":"bk","e":1.451,"v":1131000},{"p":"M3","s":"bk","e":1.461,"v":1410000},{"p":"M3","s":"bk","e":1.471,"v":1131000},{"p":"M3","s":"bk","e":1.481,"v":585000},{"p":"M3","s":"bk","e":1.491,"v":198600},{"p":"M3","s":"bk","e":1.501,"v":49450},{"p":"M3","s":"bk","e":1.512,"v":18200},{"p":"M3","s":"bk","e":1.534,"v":5010},{"p":"M3","s":"bk","e":1.548,"v":33.1},{"p":"M3","s":"bk","e":1.6,"v":34.7},{"p":"M3","s":"bk","e":1.7,"v":34.7},{"p":"M3","s":"bk","e":1.735,"v":79.4},{"p":"M3","s":"bk","e":1.766,"v":229},{"p":"M3","s":"bk","e":1.79,"v":100},{"p":"M3","s":"bk","e":1.83,"v":55},{"p":"M3","s":"bk","e":1.868,"v":61.7},{"p":"M3","s":"bk","e":1.91,"v":31.6},{"p":"M3","s":"bk","e":1.96,"v":19.5},{"p":"M3","s":"bk","e":2.017,"v":25.1},{"p":"M3","s":"bk","e":2.074,"v":15.1},{"p":"M3","s":"bk","e":2.1,"v":20},{"p":"M3","s":"bk","e":2.126,"v":37.2},{"p":"M3","s":"bk","e":2.16,"v":25.1},{"p":"M3","s":"bk","e":2.18,"v":39.8},{"p":"M3","s":"bk","e":2.203,"v":91.2},{"p":"M3","s":"bk","e":2.23,"v":39.8},{"p":"M3","s":"bk","e":2.26,"v":28.2},{"p":"M3","s":"bk","e":2.36,"v":8.51},{"p":"M3","s":"bk","e":2.42,"v":12.6},{"p":"M3","s":"bk","e":2.451,"v":34.7},{"p":"M3","s":"bk","e":2.48,"v":12.6},{"p":"M3","s":"bk","e":2.503,"v":6.46},{"p":"M3","s":"bk","e":2.59,"v":12.6},{"p":"M3","s":"bk","e":2.623,"v":44.7},{"p":"M3","s":"bk","e":2.65,"v":15.8},{"p":"M3","s":"bk","e":2.674,"v":6.46},{"p":"M3","s":"bk","e":2.731,"v":7.41},{"p":"M3","s":"bk","e":2.774,"v":5.01},{"p":"M3","s":"bk","e":2.831,"v":7.41},{"p":"M3","s":"bk","e":2.88,"v":3.98},{"p":"M3","s":"bk","e":2.931,"v":2.29},{"p":"M3","s":"bk","e":3.046,"v":2.04},{"p":"M3","s":"bk","e":3.131,"v":1.82},{"p":"M3","s":"bk","e":3.174,"v":4.47},{"p":"M3","s":"bk","e":3.2,"v":7.41},
{"p":"M3","s":"0v","e":2.39,"v":0.0001},{"p":"M3","s":"0v","e":2.4,"v":0.004},{"p":"M3","s":"0v","e":2.41,"v":0.0126},{"p":"M3","s":"0v","e":2.42,"v":0.0317},{"p":"M3","s":"0v","e":2.43,"v":0.0656},{"p":"M3","s":"0v","e":2.44,"v":0.11},{"p":"M3","s":"0v","e":2.45,"v":0.15},{"p":"M3","s":"0v","e":2.46,"v":0.166},{"p":"M3","s":"0v","e":2.47,"v":0.15},{"p":"M3","s":"0v","e":2.48,"v":0.11},{"p":"M3","s":"0v","e":2.49,"v":0.0656},{"p":"M3","s":"0v","e":2.5,"v":0.0317},{"p":"M3","s":"0v","e":2.51,"v":0.0126},{"p":"M3","s":"0v","e":2.52,"v":0.004},{"p":"M3","s":"0v","e":2.53,"v":0.0001},
{"p":"M3","s":"sum","e":1.2,"v":25100},{"p":"M3","s":"sum","e":1.3,"v":22400},{"p":"M3","s":"sum","e":1.397,"v":22900},{"p":"M3","s":"sum","e":1.411,"v":28700},{"p":"M3","s":"sum","e":1.421,"v":64500},{"p":"M3","s":"sum","e":1.431,"v":219700},{"p":"M3","s":"sum","e":1.441,"v":621800},{"p":"M3","s":"sum","e":1.451,"v":1190000},{"p":"M3","s":"sum","e":1.461,"v":1480000},{"p":"M3","s":"sum","e":1.471,"v":1190000},{"p":"M3","s":"sum","e":1.481,"v":621800},{"p":"M3","s":"sum","e":1.491,"v":219700},{"p":"M3","s":"sum","e":1.501,"v":64500},{"p":"M3","s":"sum","e":1.512,"v":25000},{"p":"M3","s":"sum","e":1.54,"v":7410},{"p":"M3","s":"sum","e":1.6,"v":6030},{"p":"M3","s":"sum","e":1.674,"v":4470},{"p":"M3","s":"sum","e":1.846,"v":1820},{"p":"M3","s":"sum","e":2.017,"v":380},{"p":"M3","s":"sum","e":2.131,"v":135},{"p":"M3","s":"sum","e":2.17,"v":112},{"p":"M3","s":"sum","e":2.203,"v":135},{"p":"M3","s":"sum","e":2.23,"v":63.1},{"p":"M3","s":"sum","e":2.26,"v":37.2},{"p":"M3","s":"sum","e":2.36,"v":9.12},{"p":"M3","s":"sum","e":2.42,"v":13.5},{"p":"M3","s":"sum","e":2.451,"v":37.2},{"p":"M3","s":"sum","e":2.48,"v":13.5},{"p":"M3","s":"sum","e":2.503,"v":6.92},{"p":"M3","s":"sum","e":2.59,"v":13.5},{"p":"M3","s":"sum","e":2.623,"v":47.9},{"p":"M3","s":"sum","e":2.65,"v":17},{"p":"M3","s":"sum","e":2.674,"v":6.92},{"p":"M3","s":"sum","e":2.731,"v":7.94},{"p":"M3","s":"sum","e":2.774,"v":5.37},{"p":"M3","s":"sum","e":2.831,"v":7.94},{"p":"M3","s":"sum","e":2.88,"v":4.27},{"p":"M3","s":"sum","e":2.931,"v":2.45},{"p":"M3","s":"sum","e":3.046,"v":2.19},{"p":"M3","s":"sum","e":3.131,"v":1.95},{"p":"M3","s":"sum","e":3.174,"v":4.79},{"p":"M3","s":"sum","e":3.2,"v":7.94},

{"p":"M4","s":"2v","e":1.2,"v":13490},{"p":"M4","s":"2v","e":1.3,"v":11750},{"p":"M4","s":"2v","e":1.4,"v":10000},{"p":"M4","s":"2v","e":1.5,"v":7240},{"p":"M4","s":"2v","e":1.6,"v":4790},{"p":"M4","s":"2v","e":1.72,"v":2630},{"p":"M4","s":"2v","e":1.891,"v":832},{"p":"M4","s":"2v","e":2.063,"v":229},{"p":"M4","s":"2v","e":2.206,"v":28.2},{"p":"M4","s":"2v","e":2.263,"v":10},{"p":"M4","s":"2v","e":2.291,"v":4.68},{"p":"M4","s":"2v","e":2.357,"v":0.603},{"p":"M4","s":"2v","e":2.39,"v":0.178},{"p":"M4","s":"2v","e":2.428,"v":0.0316},{"p":"M4","s":"2v","e":2.46,"v":0.004},
{"p":"M4","s":"bk","e":1.2,"v":646},{"p":"M4","s":"bk","e":1.21,"v":1000},{"p":"M4","s":"bk","e":1.22,"v":708},{"p":"M4","s":"bk","e":1.24,"v":891},{"p":"M4","s":"bk","e":1.25,"v":631},{"p":"M4","s":"bk","e":1.27,"v":2000},{"p":"M4","s":"bk","e":1.28,"v":1260},{"p":"M4","s":"bk","e":1.3,"v":2000},{"p":"M4","s":"bk","e":1.32,"v":2290},{"p":"M4","s":"bk","e":1.34,"v":1580},{"p":"M4","s":"bk","e":1.36,"v":3890},{"p":"M4","s":"bk","e":1.38,"v":3160},{"p":"M4","s":"bk","e":1.4,"v":8510},{"p":"M4","s":"bk","e":1.411,"v":9650},{"p":"M4","s":"bk","e":1.421,"v":16870},{"p":"M4","s":"bk","e":1.431,"v":48130},{"p":"M4","s":"bk","e":1.441,"v":129100},{"p":"M4","s":"bk","e":1.451,"v":243600},{"p":"M4","s":"bk","e":1.461,"v":302000},{"p":"M4","s":"bk","e":1.471,"v":243600},{"p":"M4","s":"bk","e":1.481,"v":129100},{"p":"M4","s":"bk","e":1.491,"v":48130},{"p":"M4","s":"bk","e":1.501,"v":16870},{"p":"M4","s":"bk","e":1.511,"v":9000},{"p":"M4","s":"bk","e":1.526,"v":1580},{"p":"M4","s":"bk","e":1.534,"v":6.92},{"p":"M4","s":"bk","e":1.6,"v":6.92},{"p":"M4","s":"bk","e":1.69,"v":6.92},{"p":"M4","s":"bk","e":1.72,"v":12.6},{"p":"M4","s":"bk","e":1.757,"v":47.9},{"p":"M4","s":"bk","e":1.78,"v":20},{"p":"M4","s":"bk","e":1.806,"v":13.2},{"p":"M4","s":"bk","e":1.857,"v":12.6},{"p":"M4","s":"bk","e":1.9,"v":5.62},{"p":"M4","s":"bk","e":1.94,"v":3.63},{"p":"M4","s":"bk","e":2.0,"v":4.17},{"p":"M4","s":"bk","e":2.063,"v":3.16},{"p":"M4","s":"bk","e":2.09,"v":5.01},{"p":"M4","s":"bk","e":2.12,"v":9.12},{"p":"M4","s":"bk","e":2.15,"v":5.37},{"p":"M4","s":"bk","e":2.18,"v":7.94},{"p":"M4","s":"bk","e":2.209,"v":22.4},{"p":"M4","s":"bk","e":2.24,"v":7.08},{"p":"M4","s":"bk","e":2.263,"v":4.79},{"p":"M4","s":"bk","e":2.32,"v":3.98},{"p":"M4","s":"bk","e":2.35,"v":2.63},{"p":"M4","s":"bk","e":2.42,"v":3.98},{"p":"M4","s":"bk","e":2.449,"v":8.51},{"p":"M4","s":"bk","e":2.48,"v":3.98},{"p":"M4","s":"bk","e":2.52,"v":2.04},{"p":"M4","s":"bk","e":2.58,"v":3.98},{"p":"M4","s":"bk","e":2.611,"v":13.2},{"p":"M4","s":"bk","e":2.64,"v":5.01},{"p":"M4","s":"bk","e":2.677,"v":2.04},{"p":"M4","s":"bk","e":2.749,"v":1.58},{"p":"M4","s":"bk","e":2.834,"v":1.91},{"p":"M4","s":"bk","e":2.88,"v":1.26},{"p":"M4","s":"bk","e":2.92,"v":0.724},{"p":"M4","s":"bk","e":3.02,"v":0.49},{"p":"M4","s":"bk","e":3.1,"v":0.398},{"p":"M4","s":"bk","e":3.2,"v":0.316},
{"p":"M4","s":"0v","e":2.39,"v":0.0001},{"p":"M4","s":"0v","e":2.4,"v":0.004},{"p":"M4","s":"0v","e":2.41,"v":0.0126},{"p":"M4","s":"0v","e":2.42,"v":0.0317},{"p":"M4","s":"0v","e":2.43,"v":0.0656},{"p":"M4","s":"0v","e":2.44,"v":0.11},{"p":"M4","s":"0v","e":2.45,"v":0.15},{"p":"M4","s":"0v","e":2.46,"v":0.166},{"p":"M4","s":"0v","e":2.47,"v":0.15},{"p":"M4","s":"0v","e":2.48,"v":0.11},{"p":"M4","s":"0v","e":2.49,"v":0.0656},{"p":"M4","s":"0v","e":2.5,"v":0.0317},{"p":"M4","s":"0v","e":2.51,"v":0.0126},{"p":"M4","s":"0v","e":2.52,"v":0.004},{"p":"M4","s":"0v","e":2.53,"v":0.0001},
{"p":"M4","s":"sum","e":1.2,"v":15100},{"p":"M4","s":"sum","e":1.32,"v":12600},{"p":"M4","s":"sum","e":1.4,"v":11000},{"p":"M4","s":"sum","e":1.411,"v":12130},{"p":"M4","s":"sum","e":1.421,"v":19300},{"p":"M4","s":"sum","e":1.431,"v":50300},{"p":"M4","s":"sum","e":1.441,"v":130600},{"p":"M4","s":"sum","e":1.451,"v":244100},{"p":"M4","s":"sum","e":1.461,"v":302000},{"p":"M4","s":"sum","e":1.471,"v":244100},{"p":"M4","s":"sum","e":1.481,"v":130600},{"p":"M4","s":"sum","e":1.491,"v":50300},{"p":"M4","s":"sum","e":1.501,"v":19300},{"p":"M4","s":"sum","e":1.511,"v":10000},{"p":"M4","s":"sum","e":1.52,"v":6610},{"p":"M4","s":"sum","e":1.6,"v":4790},{"p":"M4","s":"sum","e":1.72,"v":2630},{"p":"M4","s":"sum","e":1.891,"v":832},{"p":"M4","s":"sum","e":2.063,"v":229},{"p":"M4","s":"sum","e":2.206,"v":47.9},{"p":"M4","s":"sum","e":2.263,"v":17.4},{"p":"M4","s":"sum","e":2.3,"v":6.31},{"p":"M4","s":"sum","e":2.349,"v":3.02},{"p":"M4","s":"sum","e":2.42,"v":4.27},{"p":"M4","s":"sum","e":2.449,"v":9.12},{"p":"M4","s":"sum","e":2.48,"v":4.27},{"p":"M4","s":"sum","e":2.52,"v":2.19},{"p":"M4","s":"sum","e":2.58,"v":4.27},{"p":"M4","s":"sum","e":2.611,"v":14.1},{"p":"M4","s":"sum","e":2.64,"v":5.37},{"p":"M4","s":"sum","e":2.677,"v":2.19},{"p":"M4","s":"sum","e":2.749,"v":1.7},{"p":"M4","s":"sum","e":2.834,"v":2.04},{"p":"M4","s":"sum","e":2.88,"v":1.35},{"p":"M4","s":"sum","e":2.92,"v":0.776},{"p":"M4","s":"sum","e":3.02,"v":0.525},{"p":"M4","s":"sum","e":3.1,"v":0.427},{"p":"M4","s":"sum","e":3.2,"v":0.339}
]},
"concat":[
{"width":234,"height":245,"title":"3281-3000 kg",
 "encoding":{"x":{"field":"e","type":"quantitative","scale":{"domain":[1.2,3.2],"nice":false,"zero":false},"axis":null},
  "y":{"field":"v","type":"quantitative","scale":{"type":"log","domain":[0.03162,5754000],"nice":false},"axis":{"values":[1,100,10000,1000000],"labelExpr":"datum.value>=1e6?'10⁶':datum.value>=1e4?'10⁴':datum.value>=100?'10²':'10⁰'","title":["SS Events","Counts / 10 keV"]}}},
 "layer":[
  {"transform":[{"filter":"datum.p==='S1'&&datum.s==='2v'"}],"mark":{"type":"area","clip":true,"fill":"#e6e6e6"},"encoding":{"y2":{"datum":0.0001}}},
  {"transform":[{"filter":"datum.p==='S1'&&datum.s==='bk'"}],"mark":{"type":"area","clip":true,"fill":"#006400","fillOpacity":0.5,"stroke":"#006400","strokeOpacity":0.3,"strokeWidth":1},"encoding":{"y2":{"datum":0.0001}}},
  {"transform":[{"filter":"datum.p==='S1'&&datum.s==='0v'"}],"mark":{"type":"area","clip":true,"fill":"#b40000","fillOpacity":0.5,"stroke":"#b40000","strokeOpacity":0.3,"strokeWidth":1},"encoding":{"y2":{"datum":0.0001}}},
  {"transform":[{"filter":"datum.p==='S1'&&datum.s==='sum'"}],"mark":{"type":"line","clip":true,"stroke":"#000000","strokeWidth":2.8,"strokeJoin":"round"}},
  {"transform":[{"filter":"datum.p==='none'"}],"mark":{"type":"area"},
   "encoding":{"color":{"field":"s","type":"nominal","scale":{"domain":["2v","0v","bk","sum"],"range":["#e6e6e6","#d98080","#80b280","#000000"]},
   "legend":{"orient":"none","legendX":140,"legendY":-89,"direction":"horizontal","title":null,
    "labelExpr":"datum.value==='2v'?'2νββ':datum.value==='0v'?'0νββ':datum.value==='bk'?'Other Bkgs.':'Sum'",
    "labelFont":"DejaVu Serif","labelFontSize":20.5,"labelColor":"black","symbolSize":650,"symbolOffset":13,"labelOffset":25,"columnPadding":34,
    "strokeColor":"#cccccc","cornerRadius":4,"padding":6,"fillColor":"white",
    "encode":{"symbols":{"update":{
      "shape":{"signal":"datum.value==='sum' ? 'M-2,-0.12H2V0.12H-2Z' : 'M-2,-0.4H2V0.4H-2Z'"},
      "opacity":{"value":1}}}}}}}}
 ]},
{"width":234,"height":245,"title":"3000-2000 kg",
 "layer":[
  {"transform":[{"filter":"datum.p==='S2'&&datum.s==='2v'"}],"mark":{"type":"area","clip":true,"fill":"#e6e6e6"},
   "encoding":{"x":{"field":"e","type":"quantitative","scale":{"domain":[1.2,3.2],"nice":false,"zero":false},"axis":null},
    "y":{"field":"v","type":"quantitative","scale":{"type":"log","domain":[0.03162,5754000],"nice":false},"axis":{"values":[1,100,10000,1000000],"labels":false,"title":null}},
    "y2":{"datum":0.0001}}},
  {"transform":[{"filter":"datum.p==='S2'&&datum.s==='bk'"}],"mark":{"type":"area","clip":true,"fill":"#006400","fillOpacity":0.5,"stroke":"#006400","strokeOpacity":0.3,"strokeWidth":1},
   "encoding":{"x":{"field":"e","type":"quantitative"},"y":{"field":"v","type":"quantitative"},"y2":{"datum":0.0001}}},
  {"transform":[{"filter":"datum.p==='S2'&&datum.s==='0v'"}],"mark":{"type":"area","clip":true,"fill":"#b40000","fillOpacity":0.5,"stroke":"#b40000","strokeOpacity":0.3,"strokeWidth":1},
   "encoding":{"x":{"field":"e","type":"quantitative"},"y":{"field":"v","type":"quantitative"},"y2":{"datum":0.0001}}},
  {"transform":[{"filter":"datum.p==='S2'&&datum.s==='sum'"}],"mark":{"type":"line","clip":true,"stroke":"#000000","strokeWidth":2.8,"strokeJoin":"round"},
   "encoding":{"x":{"field":"e","type":"quantitative"},"y":{"field":"v","type":"quantitative"}}},
  {"data":{"values":[{"t":"Signal at 7.4x10"}]},"mark":{"type":"text","font":"Liberation Sans","fontWeight":"bold","fontSize":28,"align":"left","baseline":"alphabetic","fill":"#000000","clip":false},"encoding":{"x":{"datum":1.744},"y":{"datum":442000},"text":{"field":"t"}}},
  {"data":{"values":[{"t":"27"}]},"mark":{"type":"text","font":"Liberation Sans","fontWeight":"bold","fontSize":18,"align":"left","baseline":"alphabetic","dx":216,"dy":-11,"fill":"#000000","clip":false},"encoding":{"x":{"datum":1.744},"y":{"datum":442000},"text":{"field":"t"}}},
  {"data":{"values":[{"t":"yr"}]},"mark":{"type":"text","font":"Liberation Sans","fontWeight":"bold","fontSize":28,"align":"left","baseline":"alphabetic","dx":249,"fill":"#000000","clip":false},"encoding":{"x":{"datum":1.744},"y":{"datum":442000},"text":{"field":"t"}}}
 ]},
{"width":234,"height":245,"title":"2000-1000 kg",
 "encoding":{"x":{"field":"e","type":"quantitative","scale":{"domain":[1.2,3.2],"nice":false,"zero":false},"axis":null},
  "y":{"field":"v","type":"quantitative","scale":{"type":"log","domain":[0.03162,5754000],"nice":false},"axis":{"values":[1,100,10000,1000000],"labels":false,"title":null}}},
 "layer":[
  {"transform":[{"filter":"datum.p==='S3'&&datum.s==='2v'"}],"mark":{"type":"area","clip":true,"fill":"#e6e6e6"},"encoding":{"y2":{"datum":0.0001}}},
  {"transform":[{"filter":"datum.p==='S3'&&datum.s==='bk'"}],"mark":{"type":"area","clip":true,"fill":"#006400","fillOpacity":0.5,"stroke":"#006400","strokeOpacity":0.3,"strokeWidth":1},"encoding":{"y2":{"datum":0.0001}}},
  {"transform":[{"filter":"datum.p==='S3'&&datum.s==='0v'"}],"mark":{"type":"area","clip":true,"fill":"#b40000","fillOpacity":0.5,"stroke":"#b40000","strokeOpacity":0.3,"strokeWidth":1},"encoding":{"y2":{"datum":0.0001}}},
  {"transform":[{"filter":"datum.p==='S3'&&datum.s==='sum'"}],"mark":{"type":"line","clip":true,"stroke":"#000000","strokeWidth":2.8,"strokeJoin":"round"}}
 ]},
{"width":234,"height":245,"title":"Inner 1000 kg",
 "encoding":{"x":{"field":"e","type":"quantitative","scale":{"domain":[1.2,3.2],"nice":false,"zero":false},"axis":null},
  "y":{"field":"v","type":"quantitative","scale":{"type":"log","domain":[0.03162,5754000],"nice":false},"axis":{"values":[1,100,10000,1000000],"labels":false,"title":null}}},
 "layer":[
  {"transform":[{"filter":"datum.p==='S4'&&datum.s==='2v'"}],"mark":{"type":"area","clip":true,"fill":"#e6e6e6"},"encoding":{"y2":{"datum":0.0001}}},
  {"transform":[{"filter":"datum.p==='S4'&&datum.s==='bk'"}],"mark":{"type":"area","clip":true,"fill":"#006400","fillOpacity":0.5,"stroke":"#006400","strokeOpacity":0.3,"strokeWidth":1},"encoding":{"y2":{"datum":0.0001}}},
  {"transform":[{"filter":"datum.p==='S4'&&datum.s==='0v'"}],"mark":{"type":"area","clip":true,"fill":"#b40000","fillOpacity":0.5,"stroke":"#b40000","strokeOpacity":0.3,"strokeWidth":1},"encoding":{"y2":{"datum":0.0001}}},
  {"transform":[{"filter":"datum.p==='S4'&&datum.s==='sum'"}],"mark":{"type":"line","clip":true,"stroke":"#000000","strokeWidth":2.8,"strokeJoin":"round"}}
 ]},
{"width":234,"height":245,
 "encoding":{"x":{"field":"e","type":"quantitative","scale":{"domain":[1.2,3.2],"nice":false,"zero":false},"axis":{"values":[1.5,2,2.5,3],"format":".1f","title":"Energy (MeV)"}},
  "y":{"field":"v","type":"quantitative","scale":{"type":"log","domain":[0.03162,5754000],"nice":false},"axis":{"values":[1,100,10000,1000000],"labelExpr":"datum.value>=1e6?'10⁶':datum.value>=1e4?'10⁴':datum.value>=100?'10²':'10⁰'","title":["MS Events","Counts / 10 keV"]}}},
 "layer":[
  {"transform":[{"filter":"datum.p==='M1'&&datum.s==='2v'"}],"mark":{"type":"area","clip":true,"fill":"#e6e6e6"},"encoding":{"y2":{"datum":0.0001}}},
  {"transform":[{"filter":"datum.p==='M1'&&datum.s==='bk'"}],"mark":{"type":"area","clip":true,"fill":"#006400","fillOpacity":0.5,"stroke":"#006400","strokeOpacity":0.3,"strokeWidth":1},"encoding":{"y2":{"datum":0.0001}}},
  {"transform":[{"filter":"datum.p==='M1'&&datum.s==='0v'"}],"mark":{"type":"area","clip":true,"fill":"#b40000","fillOpacity":0.5,"stroke":"#b40000","strokeOpacity":0.3,"strokeWidth":1},"encoding":{"y2":{"datum":0.0001}}},
  {"transform":[{"filter":"datum.p==='M1'&&datum.s==='sum'"}],"mark":{"type":"line","clip":true,"stroke":"#000000","strokeWidth":2.8,"strokeJoin":"round"}}
 ]},
{"width":234,"height":245,
 "encoding":{"x":{"field":"e","type":"quantitative","scale":{"domain":[1.2,3.2],"nice":false,"zero":false},"axis":{"values":[1.5,2,2.5,3],"format":".1f","title":"Energy (MeV)"}},
  "y":{"field":"v","type":"quantitative","scale":{"type":"log","domain":[0.03162,5754000],"nice":false},"axis":{"values":[1,100,10000,1000000],"labels":false,"title":null}}},
 "layer":[
  {"transform":[{"filter":"datum.p==='M2'&&datum.s==='2v'"}],"mark":{"type":"area","clip":true,"fill":"#e6e6e6"},"encoding":{"y2":{"datum":0.0001}}},
  {"transform":[{"filter":"datum.p==='M2'&&datum.s==='bk'"}],"mark":{"type":"area","clip":true,"fill":"#006400","fillOpacity":0.5,"stroke":"#006400","strokeOpacity":0.3,"strokeWidth":1},"encoding":{"y2":{"datum":0.0001}}},
  {"transform":[{"filter":"datum.p==='M2'&&datum.s==='0v'"}],"mark":{"type":"area","clip":true,"fill":"#b40000","fillOpacity":0.5,"stroke":"#b40000","strokeOpacity":0.3,"strokeWidth":1},"encoding":{"y2":{"datum":0.0001}}},
  {"transform":[{"filter":"datum.p==='M2'&&datum.s==='sum'"}],"mark":{"type":"line","clip":true,"stroke":"#000000","strokeWidth":2.8,"strokeJoin":"round"}}
 ]},
{"width":234,"height":245,
 "encoding":{"x":{"field":"e","type":"quantitative","scale":{"domain":[1.2,3.2],"nice":false,"zero":false},"axis":{"values":[1.5,2,2.5,3],"format":".1f","title":"Energy (MeV)"}},
  "y":{"field":"v","type":"quantitative","scale":{"type":"log","domain":[0.03162,5754000],"nice":false},"axis":{"values":[1,100,10000,1000000],"labels":false,"title":null}}},
 "layer":[
  {"transform":[{"filter":"datum.p==='M3'&&datum.s==='2v'"}],"mark":{"type":"area","clip":true,"fill":"#e6e6e6"},"encoding":{"y2":{"datum":0.0001}}},
  {"transform":[{"filter":"datum.p==='M3'&&datum.s==='bk'"}],"mark":{"type":"area","clip":true,"fill":"#006400","fillOpacity":0.5,"stroke":"#006400","strokeOpacity":0.3,"strokeWidth":1},"encoding":{"y2":{"datum":0.0001}}},
  {"transform":[{"filter":"datum.p==='M3'&&datum.s==='0v'"}],"mark":{"type":"area","clip":true,"fill":"#b40000","fillOpacity":0.5,"stroke":"#b40000","strokeOpacity":0.3,"strokeWidth":1},"encoding":{"y2":{"datum":0.0001}}},
  {"transform":[{"filter":"datum.p==='M3'&&datum.s==='sum'"}],"mark":{"type":"line","clip":true,"stroke":"#000000","strokeWidth":2.8,"strokeJoin":"round"}}
 ]},
{"width":234,"height":245,
 "encoding":{"x":{"field":"e","type":"quantitative","scale":{"domain":[1.2,3.2],"nice":false,"zero":false},"axis":{"values":[1.5,2,2.5,3],"format":".1f","title":"Energy (MeV)"}},
  "y":{"field":"v","type":"quantitative","scale":{"type":"log","domain":[0.03162,5754000],"nice":false},"axis":{"values":[1,100,10000,1000000],"labels":false,"title":null}}},
 "layer":[
  {"transform":[{"filter":"datum.p==='M4'&&datum.s==='2v'"}],"mark":{"type":"area","clip":true,"fill":"#e6e6e6"},"encoding":{"y2":{"datum":0.0001}}},
  {"transform":[{"filter":"datum.p==='M4'&&datum.s==='bk'"}],"mark":{"type":"area","clip":true,"fill":"#006400","fillOpacity":0.5,"stroke":"#006400","strokeOpacity":0.3,"strokeWidth":1},"encoding":{"y2":{"datum":0.0001}}},
  {"transform":[{"filter":"datum.p==='M4'&&datum.s==='0v'"}],"mark":{"type":"area","clip":true,"fill":"#b40000","fillOpacity":0.5,"stroke":"#b40000","strokeOpacity":0.3,"strokeWidth":1},"encoding":{"y2":{"datum":0.0001}}},
  {"transform":[{"filter":"datum.p==='M4'&&datum.s==='sum'"}],"mark":{"type":"line","clip":true,"stroke":"#000000","strokeWidth":2.8,"strokeJoin":"round"}}
 ]}
],
"config":{
 "view":{"stroke":"#1a1a1a","strokeWidth":1.2},
 "title":{"font":"DejaVu Serif","fontSize":22.5,"fontWeight":"normal","color":"black","offset":7,"anchor":"middle"},
 "axis":{"labelFont":"DejaVu Serif","titleFont":"DejaVu Serif","labelColor":"black","titleColor":"black","titleFontWeight":"normal","tickColor":"#222222","tickSize":5,"domain":false,"grid":false},
 "axisX":{"labelFontSize":17.5,"titleFontSize":19,"labelPadding":5,"titlePadding":4},
 "axisY":{"labelFontSize":18,"titleFontSize":18.5,"titleLineHeight":21,"labelPadding":10,"titlePadding":-2}
}
}
